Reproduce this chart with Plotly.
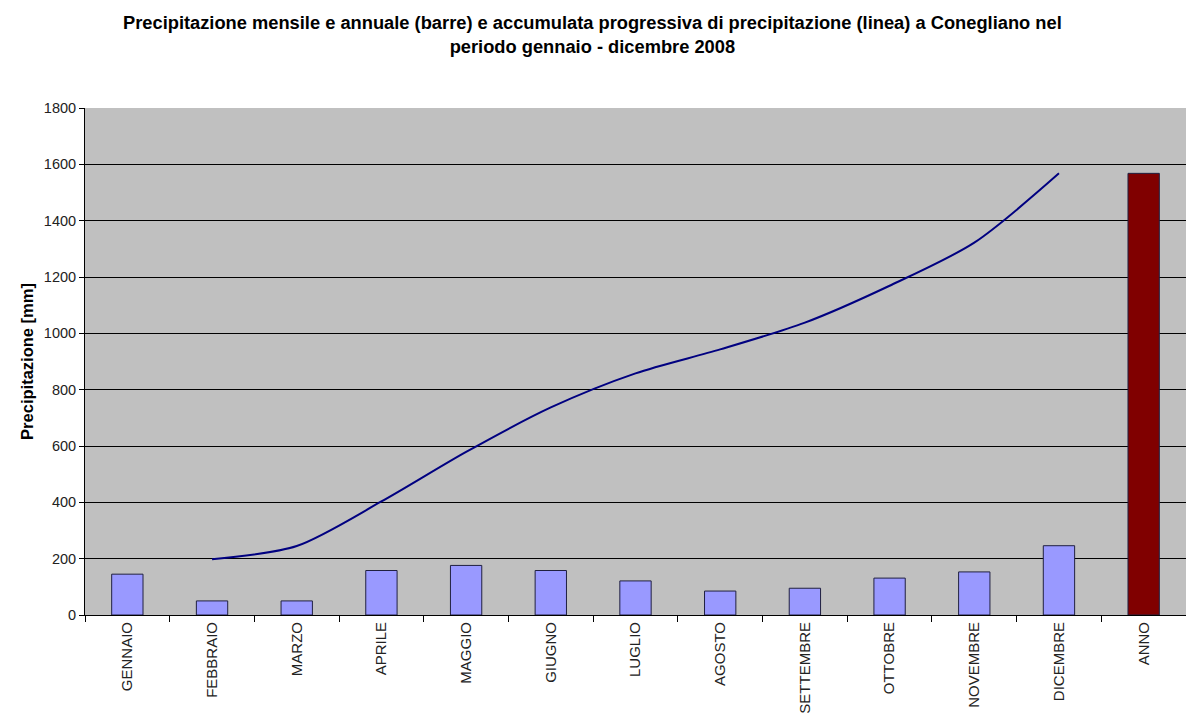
import plotly.graph_objects as go

# Monthly precipitation at Conegliano, 2008 (mm)
mesi = ["GENNAIO", "FEBBRAIO", "MARZO", "APRILE", "MAGGIO", "GIUGNO", "LUGLIO",
        "AGOSTO", "SETTEMBRE", "OTTOBRE", "NOVEMBRE", "DICEMBRE"]
pioggia_mensile = [145, 50, 50, 158, 176, 158, 121, 85, 95, 131, 153, 246]

# Annual total (mm)
etichetta_anno = "ANNO"
pioggia_annua = 1568

# Progressive accumulated precipitation (mm); the curve starts in February
cumulata = [None, 198, 245, 403, 579, 737, 858, 943, 1038, 1169, 1322, 1568]

y_ticks = [0, 200, 400, 600, 800, 1000, 1200, 1400, 1600, 1800]

titolo = ("<b>Precipitazione mensile e annuale (barre) e accumulata progressiva di "
          "precipitazione (linea) a Conegliano nel<br>periodo gennaio - dicembre 2008</b>")

categorie = mesi + [etichetta_anno]
valori_barre = pioggia_mensile + [pioggia_annua]
colori_barre = ["#9999FF"] * len(mesi) + ["#800000"]

fig = go.Figure()

fig.add_trace(go.Bar(
    x=categorie,
    y=valori_barre,
    width=0.37,
    marker=dict(color=colori_barre, line=dict(color="#202040", width=1)),
    showlegend=False,
))

fig.add_trace(go.Scatter(
    x=mesi,
    y=cumulata,
    mode="lines",
    line=dict(color="#000080", width=2, shape="spline", smoothing=0.8),
    connectgaps=False,
    showlegend=False,
))

fig.update_layout(
    width=1186,
    height=724,
    margin=dict(l=85, r=0, t=108, b=109),
    paper_bgcolor="white",
    plot_bgcolor="#C0C0C0",
    font=dict(family="Liberation Sans, Arial, sans-serif", color="black"),
)

# Two-line chart title, centred over the page
fig.add_annotation(
    text=titolo,
    xref="paper", yref="paper",
    x=(592 - 85) / 1101, xanchor="center",
    y=1 + (108 - 10) / 507, yanchor="top",
    showarrow=False,
    align="center",
    font=dict(size=18.3, family="Liberation Sans, Arial, sans-serif", color="black"),
)

fig.update_xaxes(
    type="category",
    categoryorder="array",
    categoryarray=categorie,
    range=[-0.5, 12.5],
    tickson="boundaries",
    ticks="outside",
    ticklen=6,
    tickcolor="black",
    tickangle=-90,
    tickfont=dict(size=15, color="#222222"),
    showline=True,
    linecolor="black",
    linewidth=1,
    showgrid=False,
    mirror=False,
)

fig.update_yaxes(
    range=[0, 1800],
    tickvals=y_ticks,
    ticks="outside",
    ticklen=5,
    tickcolor="black",
    tickfont=dict(size=14.5, color="#222222"),
    showline=True,
    linecolor="black",
    linewidth=1,
    showgrid=True,
    gridcolor="black",
    gridwidth=1,
    zeroline=False,
    title=dict(text="<b>Precipitazione [mm]</b>", font=dict(size=16.5), standoff=6),
)

fig.write_html("out.html")
